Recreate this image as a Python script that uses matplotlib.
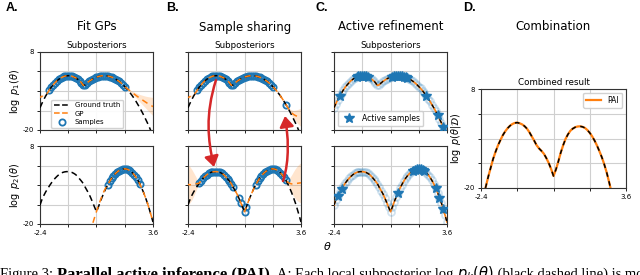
import numpy as np
import matplotlib
matplotlib.use('Agg')
import matplotlib.pyplot as plt
from matplotlib.path import Path
from matplotlib.patches import FancyArrowPatch
from matplotlib.lines import Line2D

plt.rcParams['axes.unicode_minus'] = False

# evaluation grid for theta (step 0.1)
theta = np.round(np.linspace(-2.4, 3.6, 61), 1)

# ground truth log subposteriors
log_p1 = np.array([
    -12.0, -10.5, -9.1, -7.8, -6.7, -5.6, -4.6, -3.8, -3.0, -2.3,
    -1.8, -1.3, -1.0, -0.7, -0.55, -0.5, -0.55, -0.7, -1.0, -1.3,
    -1.8, -2.3, -3.0, -4.0, -3.8, -3.1, -2.55, -2.1, -1.65, -1.3,
    -1.0, -0.8, -0.63, -0.53, -0.5, -0.53, -0.63, -0.8, -1.0, -1.3,
    -1.65, -2.1, -2.55, -3.1, -3.7, -4.4, -5.1, -5.9, -6.8, -7.7,
    -8.7, -9.75, -10.9, -12.05, -13.3, -14.6, -16.0, -17.4, -18.9, -20.5,
    -22.1])
log_p2 = np.array([
    -13.2, -11.3, -9.8, -8.5, -7.4, -6.3, -5.3, -4.4, -3.6, -2.9,
    -2.3, -1.85, -1.5, -1.3, -1.2, -1.2, -1.3, -1.5, -1.85, -2.3,
    -3.0, -3.8, -4.6, -5.5, -6.8, -8.0, -9.2, -10.7, -12.3, -14.0,
    -15.6, -13.9, -12.0, -10.3, -8.7, -7.2, -5.9, -4.7, -3.6, -2.7,
    -1.95, -1.3, -0.8, -0.5, -0.27, -0.2, -0.29, -0.54, -0.97, -1.56,
    -2.33, -3.26, -4.37, -5.64, -7.09, -8.7, -10.5, -12.4, -14.6, -16.9,
    -19.3])
# combined posterior (panel D)
log_post = np.array([
    -25.0, -22.0, -19.6, -16.8, -14.3, -11.8, -9.8, -8.0, -6.5, -5.1,
    -4.0, -3.1, -2.4, -1.9, -1.6, -1.5, -1.7, -2.0, -2.5, -3.2,
    -4.2, -5.4, -6.6, -7.9, -8.8, -9.5, -10.3, -11.5, -12.9, -14.6,
    -16.6, -14.8, -12.5, -10.0, -7.9, -6.1, -4.8, -3.8, -3.2, -2.8,
    -2.6, -2.55, -2.7, -3.0, -3.6, -4.4, -5.4, -6.6, -8.0, -9.6,
    -11.3, -13.3, -15.6, -18.3, -21.2, -24.3, -27.5, -31.0, -34.5, -38.0,
    -42.0])

# GP means: equal to the truth where there are samples, own values in the tails
gp_a1 = log_p1.copy()
gp_a1[:5] = [-8.3, -7.9, -7.5, -7.1, -6.7]
gp_a1[46:] = [-4.95, -5.5, -6.05, -6.6, -7.1, -7.6, -8.1, -8.6, -9.05, -9.5,
              -9.95, -10.4, -10.8, -11.2, -11.6]
band_a1 = np.zeros(61)
band_a1[:5] = [0.5, 0.35, 0.2, 0.1, 0.0]
band_a1[46:] = [0.1, 0.2, 0.35, 0.5, 0.7, 0.9, 1.1, 1.35, 1.6, 1.85,
                2.1, 2.4, 2.7, 3.0, 3.3]

gp_a2 = log_p2.copy()
gp_a2[:27] = np.nan
gp_a2[27:36] = [-22.2, -19.8, -17.6, -15.5, -13.5, -11.6, -9.8, -8.2, -6.9]
band_a2 = np.zeros(61)

gp_b1 = log_p1.copy()
gp_b1[:5] = [-8.4, -8.0, -7.6, -7.1, -6.7]
gp_b1[53:] = [-12.0, -13.0, -13.8, -14.4, -14.8, -15.1, -15.3, -15.5]
band_b1 = np.zeros(61)
band_b1[:5] = [0.5, 0.35, 0.2, 0.1, 0.0]
band_b1[46:] = [0.15, 0.3, 0.4, 0.4, 0.3, 0.2, 0.1, 0.3, 0.6, 1.0,
                1.4, 1.9, 2.4, 2.9, 3.3]

gp_b2 = log_p2.copy()
gp_b2[:6] = [-5.8, -5.9, -5.9, -5.8, -5.6, -5.5]
gp_b2[53:] = [-5.0, -5.4, -5.6, -5.6, -5.5, -5.4, -5.3, -5.2]
band_b2 = np.zeros(61)
band_b2[:7] = [7.0, 6.5, 5.5, 4.2, 2.8, 1.3, 0.3]
band_b2[53:] = [0.8, 2.0, 3.2, 4.4, 5.4, 6.2, 6.8, 7.2]

# sample locations (theta)
samp_a1 = theta[5:46]
samp_a2 = theta[36:54]
samp_b1 = np.r_[theta[5:46], 2.8]
samp_b2 = np.r_[theta[6:23], -0.1, 0.0, 0.3, 0.4, 0.6, 0.7, theta[36:53]]
active_c1 = [-2.1, -1.2, -1.1, -1.0, -0.9, -0.8, -0.7, -0.6, 0.7, 0.8, 0.9,
             1.0, 1.1, 1.2, 1.3, 1.4, 1.5, 2.5, 3.1, 3.4]
active_c2 = [-2.2, -2.0, 1.0, 1.8, 1.9, 2.0, 2.1, 2.2, 2.3, 2.4, 3.0, 3.2, 3.4]

BLUE = '#1f77b4'
ORANGE = '#ff7f0e'
W, H = 640, 275


def idx(vals):
    return np.rint((np.asarray(vals) - theta[0]) / 0.1).astype(int)


def box(x0, y0, x1, y1):
    return [x0 / W, 1 - y1 / H, (x1 - x0) / W, (y1 - y0) / H]


def style(ax, xlab=False, ylab=False):
    ax.set_xlim(-2.4, 3.6)
    ax.set_ylim(-20, 8)
    ax.set_xticks(np.linspace(-2.4, 3.6, 5))
    ax.set_yticks(np.linspace(-20, 8, 5))
    ax.set_xticklabels(['-2.4', '', '', '', '3.6'] if xlab else [])
    ax.set_yticklabels(['-20', '', '', '', '8'] if ylab else [])
    ax.grid(True, color='#cfcfcf', lw=0.8)
    ax.set_axisbelow(True)
    ax.tick_params(labelsize=5, length=2.5, width=0.6, pad=1.5)
    for s in ax.spines.values():
        s.set_linewidth(0.8)
        s.set_color('#333333')


def gp_panel(ax, truth, gp, band, samp):
    ax.fill_between(theta, gp - band, gp + band, color=ORANGE, alpha=0.2, lw=0)
    ax.plot(samp, truth[idx(samp)], 'o', mfc='none', mec=BLUE, mew=1.3, ms=4.5, zorder=3)
    ax.plot(theta, truth, color='k', ls=(0, (4, 2.5)), lw=1.1, zorder=4)
    ax.plot(theta, gp, color=ORANGE, ls=(2, (4, 3)), lw=1.1, zorder=5)


def refine_panel(ax, truth, active):
    ax.plot(theta, truth, 'o', mfc='none', mec=BLUE, mew=1.3, ms=5, alpha=0.2, zorder=2)
    ax.plot(theta, truth, color=ORANGE, lw=1.2, zorder=3)
    ax.plot(theta, truth, color='k', ls=(0, (3, 3)), lw=1.0, zorder=4)
    ax.plot(active, truth[idx(active)], '*', color=BLUE, ms=7, zorder=5)


fig = plt.figure(figsize=(6.4, 2.75), dpi=100)

top_y, bot_y = (52, 130), (146, 224)
cols = {'A': (40, 153), 'B': (188, 301), 'C': (334, 447)}
axs = {}
for k, (x0, x1) in cols.items():
    axs[k + '1'] = fig.add_axes(box(x0, top_y[0], x1, top_y[1]))
    axs[k + '2'] = fig.add_axes(box(x0, bot_y[0], x1, bot_y[1]))
axd = fig.add_axes(box(481, 89, 626, 188))

gp_panel(axs['A1'], log_p1, gp_a1, band_a1, samp_a1)
gp_panel(axs['A2'], log_p2, gp_a2, band_a2, samp_a2)
gp_panel(axs['B1'], log_p1, gp_b1, band_b1, samp_b1)
gp_panel(axs['B2'], log_p2, gp_b2, band_b2, samp_b2)
refine_panel(axs['C1'], log_p1, active_c1)
refine_panel(axs['C2'], log_p2, active_c2)

axd.plot(theta, log_post, color=ORANGE, lw=1.6, label='PAI')
axd.plot(theta, log_post, color='k', ls=(0, (3, 3)), lw=1.1)

for k in 'ABC':
    style(axs[k + '1'], ylab=(k == 'A'))
    style(axs[k + '2'], xlab=True, ylab=(k == 'A'))
    axs[k + '1'].set_title('Subposteriors', fontsize=6.3, pad=3)
style(axd, xlab=True, ylab=True)
axd.set_title('Combined result', fontsize=6.3, pad=3)

axs['A1'].set_ylabel(r'$\log\ p_1(\theta)$', fontsize=7, labelpad=1)
axs['A2'].set_ylabel(r'$\log\ p_2(\theta)$', fontsize=7, labelpad=1)
axd.set_ylabel(r'$\log\ p(\theta|\mathcal{D})$', fontsize=7, labelpad=1)

handles = [Line2D([], [], color='k', ls='--', lw=1.1),
           Line2D([], [], color=ORANGE, ls='--', lw=1.1),
           Line2D([], [], ls='none', marker='o', mfc='none', mec=BLUE, mew=1.3, ms=4.5)]
axs['A1'].legend(handles, ['Ground truth', 'GP', 'Samples'], loc='lower left',
                 bbox_to_anchor=(0.07, -0.02), fontsize=5, handlelength=2.2,
                 borderpad=0.4, labelspacing=0.35, framealpha=0.9)
axs['C1'].legend([Line2D([], [], ls='none', marker='*', color=BLUE, ms=7)],
                 ['Active samples'], loc='lower left', fontsize=5.5,
                 borderpad=0.4, framealpha=0.9)
axd.legend(loc='upper right', fontsize=5.5, handlelength=2.0, framealpha=0.9)

# panel letters and headings
for letter, x, title, xc in [('A.', 6, 'Fit GPs', 97), ('B.', 166, 'Sample sharing', 245),
                             ('C.', 316, 'Active refinement', 391), ('D.', 463, 'Combination', 553)]:
    fig.text(x / W, 1 - 2 / H, letter, fontsize=9, fontweight='bold',
             family='Liberation Sans', va='top', ha='left')
    fig.text(xc / W, 1 - 27 / H, title, fontsize=8.5, ha='center', va='center')

fig.text(327 / W, 1 - 246 / H, r'$\theta$', fontsize=8, ha='center', va='center')

# red arrows showing the shared samples
arrows = [[(216, 80), (205, 115), (208, 140), (214, 167)],
          [(283, 181), (290, 160), (288, 135), (285, 116)]]
for pts in arrows:
    path = Path([(x / W, 1 - y / H) for x, y in pts],
                [Path.MOVETO, Path.CURVE4, Path.CURVE4, Path.CURVE4])
    fig.add_artist(FancyArrowPatch(path=path, arrowstyle='-|>,head_length=0.45,head_width=0.3',
                                   mutation_scale=14, color='#d62728', lw=1.8,
                                   transform=fig.transFigure))

# caption, cut by the bottom edge
renderer = fig.canvas.get_renderer()
x = 0.0
for txt, wt, fs in [('Figure 3: ', 'normal', 10.5), ('Parallel active inference (PAI).', 'bold', 12),
                    (' A: Each local subposterior log ', 'normal', 10.5), (r'$p_k(\theta)$', 'normal', 10.5),
                    (' (black dashed line) is modelled', 'normal', 10.5)]:
    t = fig.text(x, -3 / H, txt, fontsize=fs, family='Liberation Serif',
                 fontweight=wt, va='baseline', ha='left')
    bb = t.get_window_extent(renderer)
    x = bb.x1 / fig.bbox.width

fig.savefig('out.png', dpi=100)
